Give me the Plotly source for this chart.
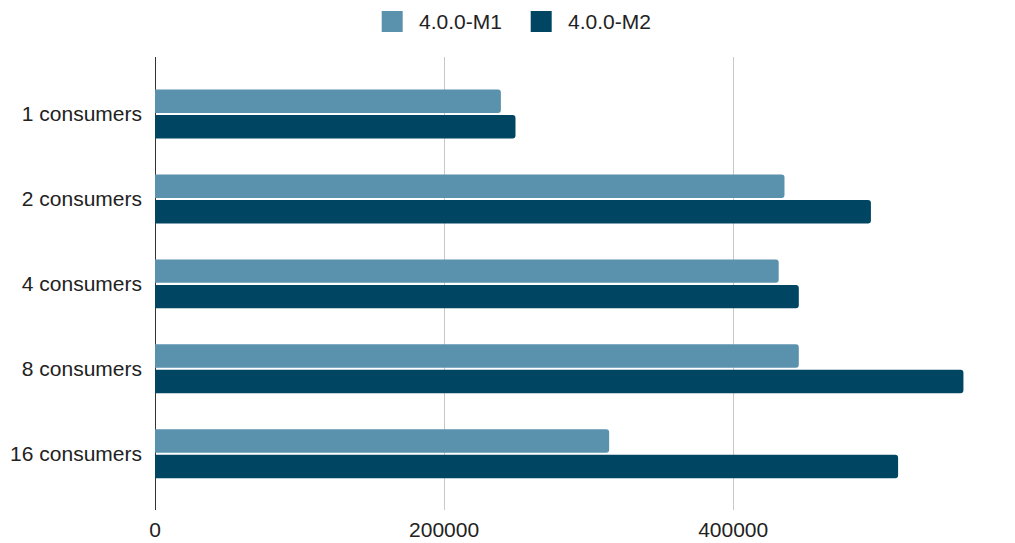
import plotly.graph_objects as go

categories = ["1 consumers", "2 consumers", "4 consumers", "8 consumers", "16 consumers"]
m1_values = [239300, 435500, 431500, 445400, 314200]
m2_values = [249400, 495300, 445400, 559300, 514100]
series_names = ["4.0.0-M1", "4.0.0-M2"]
x_tickvals = [0, 200000, 400000]
x_ticktext = ["0", "200000", "400000"]

FONT = "Liberation Sans, Arial, sans-serif"
TXT = "#222222"
C1 = "#5A92AE"
C2 = "#004562"
colors = [C1, C2]

# figure geometry (page has an 8px body margin)
W, H = 1007, 535
L, R, T, B = 147, 15, 49, 33
PW, PH = W - L - R, H - T - B


def px_x(px):
    return (px - L) / PW


def px_y(py):
    return (H - B - py) / PH


fig = go.Figure()
for name, vals, col in zip(series_names, [m1_values, m2_values], colors):
    fig.add_trace(go.Bar(y=categories, x=vals, name=name, orientation="h",
                         showlegend=False,
                         marker=dict(color=col, cornerradius=3, line=dict(width=0))))

# legend drawn manually (large swatches like the reference)
shapes = []
annotations = []
legend_items = [(373.7, 410.0), (522.7, 558.7)]
for (sx, tx), name, col in zip(legend_items, series_names, colors):
    shapes.append(dict(type="rect", xref="paper", yref="paper",
                       x0=px_x(sx), x1=px_x(sx + 21), y0=px_y(24), y1=px_y(3),
                       fillcolor=col, line=dict(width=0), layer="above"))
    annotations.append(dict(text=name, xref="paper", yref="paper",
                            x=px_x(tx), y=px_y(13.5), xanchor="left", yanchor="middle",
                            showarrow=False, borderpad=0,
                            font=dict(family=FONT, size=21, color=TXT)))

fig.update_layout(
    width=W, height=H,
    margin=dict(l=L, r=R, t=T, b=B),
    paper_bgcolor="white", plot_bgcolor="white",
    barmode="group", bargap=0.40, bargroupgap=0.08,
    font=dict(family=FONT, size=21, color=TXT),
    showlegend=False,
    shapes=shapes,
    annotations=annotations,
    xaxis=dict(range=[0, 584600], tickvals=x_tickvals, ticktext=x_ticktext,
               showgrid=True, gridcolor="#c8c8c8", gridwidth=1,
               zeroline=True, zerolinecolor="#333333", zerolinewidth=1,
               showline=False, ticks="", automargin=False, ticklabelstandoff=5,
               tickfont=dict(family=FONT, size=21, color=TXT)),
    yaxis=dict(categoryorder="array", categoryarray=categories,
               range=[4.663, -0.672], showgrid=False, zeroline=False,
               showline=False, ticks="", ticklabelstandoff=12, automargin=False,
               tickfont=dict(family=FONT, size=21, color=TXT)),
)

fig.write_html("out.html")
